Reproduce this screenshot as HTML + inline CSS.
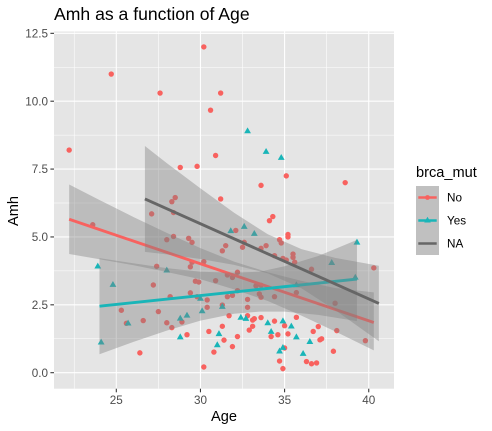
<!DOCTYPE html>
<html>
<head>
<meta charset="utf-8">
<title>Amh as a function of Age</title>
<style>
html,body{margin:0;padding:0;background:#fff;width:492px;height:431px;overflow:hidden}
svg{display:block}
text{font-family:"Liberation Sans",Arial,sans-serif}
</style>
</head>
<body>
<svg id="chart" width="492" height="431" viewBox="0 0 492 431" xmlns="http://www.w3.org/2000/svg">
  <text x="54" y="20" font-size="17.6" fill="#000">Amh as a function of Age</text>
  <rect x="54" y="31.5" width="340" height="357.2" fill="#e5e5e5"/>
  <g id="grid"></g>
  <g id="points"></g>
  <g id="smooths"></g>
  <g id="axes"></g>
  <text x="224" y="421" font-size="14.6" text-anchor="middle" fill="#000">Age</text>
  <text transform="translate(18,211) rotate(-90)" font-size="14.6" text-anchor="middle" fill="#000">Amh</text>
  <g>
    <text x="416" y="177" font-size="14.6" fill="#000">brca_mut</text>
    <rect x="416" y="186" width="23" height="69" fill="#c0c0c0"/>
    <g>
      <line x1="418.3" x2="436.7" y1="197.5" y2="197.5" stroke="#f8625f" stroke-width="2.6"/>
      <circle cx="427.5" cy="197.5" r="2.4" fill="#f8625f"/>
      <text x="447" y="201.6" font-size="11.7" fill="#000">No</text>
    </g>
    <g>
      <line x1="418.3" x2="436.7" y1="220.5" y2="220.5" stroke="#19b5b8" stroke-width="2.6"/>
      <path d="M427.5 216.8 L430.8 222.5 L424.2 222.5 Z" fill="#19b5b8"/>
      <text x="447" y="224.6" font-size="11.7" fill="#000">Yes</text>
    </g>
    <g>
      <line x1="418.3" x2="436.7" y1="243.5" y2="243.5" stroke="#666" stroke-width="2.6"/>
      <text x="447" y="247.6" font-size="11.7" fill="#000">NA</text>
    </g>
  </g>
</svg>
<script>
const xTickValues = [25, 30, 35, 40];
const xMinorValues = [22.5, 27.5, 32.5, 37.5];
const yTickValues = [0, 2.5, 5, 7.5, 10, 12.5];
const yTickLabels = ['0.0', '2.5', '5.0', '7.5', '10.0', '12.5'];
const yMinorValues = [1.25, 3.75, 6.25, 8.75, 11.25];

const noPoints = [[22.2,8.2],[24.7,11],[27.6,10.3],[30.2,12],[30.6,9.67],[31.2,10.3],[30.9,8],[29.8,7.6],[28.8,7.56],[31.2,6.4],[28.5,6.45],[28.3,6.3],[27.1,5.85],[35.1,7.25],[33.6,6.9],[38.6,7],[34.3,5.75],[34.1,5.6],[23.6,5.45],[28.4,5.9],[28,4.9],[28.4,5.02],[29.3,4.95],[29.5,4.8],[30.2,4.09],[29.5,4.07],[29.4,3.9],[27.4,3.92],[29.7,3.37],[29.9,3.34],[30.9,3.39],[27.2,3.23],[29.4,2.94],[28.2,2.8],[29.8,2.8],[30.4,2.68],[30.4,2.41],[25.3,2.3],[27.5,2.25],[26.6,1.92],[25.6,1.82],[28,1.84],[28.9,1.87],[28.3,1.66],[30.5,1.52],[29.2,1.4],[30.8,0.76],[30.2,0.21],[26.4,0.73],[35.2,5.09],[35.2,5],[32.1,5.24],[34.7,4.9],[34.8,4.78],[31.5,4.68],[31.3,4.49],[32.6,4.8],[32.5,4.62],[33.6,4.58],[33.9,4.68],[35.5,4.37],[35.5,4.25],[34.4,4.31],[34.9,4.21],[35.1,4.15],[35.6,4.07],[36.6,3.81],[40.3,3.86],[32.2,3.7],[31.6,3.6],[31.9,3.51],[33.3,3.2],[33.6,3.22],[32.2,3.02],[31.6,2.8],[31.9,2.85],[33.5,2.9],[33.6,2.78],[34.4,2.8],[35.7,2.95],[32.8,2.7],[32.8,2.41],[31.3,2.49],[38,2.56],[31.7,2.1],[32.8,2.1],[33.6,2.03],[33.2,1.99],[33.1,1.94],[34.4,1.9],[35.7,2.04],[35,1.73],[37,1.7],[33.1,1.71],[32.9,1.57],[31.3,1.71],[38.1,1.55],[36.7,1.52],[35.2,1.43],[34.6,1.4],[34.2,1.33],[32.2,1.33],[31.4,1.2],[37.1,1.21],[37.2,1.25],[39.8,1.18],[31.9,0.96],[35,0.91],[37.9,0.79],[34.7,0.43],[36.3,0.41],[36.6,0.33],[36.9,0.36],[34.9,0.15]];
const yesPoints = [[32.8,8.9],[33.9,8.14],[34.8,7.92],[23.9,3.92],[24.8,3.24],[28,3.77],[30,2.73],[30.1,2.27],[29.2,2.11],[28.8,2],[25.7,1.82],[28.8,1.31],[24.1,1.12],[31.8,5.22],[32.6,5.38],[33.2,5.12],[39.3,4.8],[37.8,4.05],[39.2,3.51],[35.7,3.23],[31.3,2.43],[32.4,2.03],[32.7,1.99],[34,1.83],[34.9,1.9],[35.4,1.71],[34.2,1.51],[35.7,1.31],[36.5,1.14],[31.1,1.43],[31,1.02],[34.9,0.92],[34.7,0.79],[36.1,0.7]];

// Each band row: age, lower bound, upper bound
const noBand = [[22.2,4.37,6.93],[24,4.18,6.36],[26,3.96,5.74],[28,3.71,5.15],[30,3.44,4.59],[32,3.07,4.09],[34,2.64,3.7],[36,2.1,3.38],[38,1.52,3.12],[40.3,0.82,2.96]];
const yesBand = [[24,0.68,4.22],[26,1.13,4.03],[28,1.55,3.85],[30,1.92,3.72],[32,2.17,3.68],[33.5,2.25,3.72],[35,2.25,3.92],[37,2.13,4.3],[39.3,1.9,4.89]];
const naBand = [[26.7,4.45,8.35],[28,4.36,7.72],[30,4.19,6.79],[32,3.97,5.89],[34,3.66,5.1],[36,3.11,4.55],[38,2.31,4.23],[40.6,1.16,3.94]];

const noLine = [[22.2,5.65],[40.3,1.85]];
const yesLine = [[24,2.45],[39.3,3.45]];
const naLine = [[26.7,6.4],[40.6,2.55]];

const NS = 'http://www.w3.org/2000/svg';
function xScale(v) { return 116.3 + (v - 25) * 16.83; }
function yScale(v) { return 372.7 - v * 27.15; }
function make(tag, attrs, parent) {
  const el = document.createElementNS(NS, tag);
  Object.keys(attrs).forEach(function (k) { el.setAttribute(k, attrs[k]); });
  parent.appendChild(el);
  return el;
}
const PANEL = { left: 54, right: 394, top: 31.5, bottom: 388.7 };
const grid = document.getElementById('grid');
const axes = document.getElementById('axes');
const pointsLayer = document.getElementById('points');
const smooths = document.getElementById('smooths');

yMinorValues.forEach(function (v) {
  const el = make('line', { x1: PANEL.left, x2: PANEL.right, y1: yScale(v), y2: yScale(v), stroke: '#fff', 'stroke-width': 0.55 }, grid);
  
  
});
xMinorValues.forEach(function (v) {
  const el = make('line', { x1: xScale(v), x2: xScale(v), y1: PANEL.top, y2: PANEL.bottom, stroke: '#fff', 'stroke-width': 0.55 }, grid);
  
  
});
yTickValues.forEach(function (v, i) {
  const y = yScale(v);
  const g = make('line', { x1: PANEL.left, x2: PANEL.right, y1: y, y2: y, stroke: '#fff', 'stroke-width': 1.07 }, grid);
  
  
  const t = make('line', { x1: 50.4, x2: PANEL.left, y1: y, y2: y, stroke: '#333', 'stroke-width': 1.07 }, axes);
  
  
  const l = make('text', { x: 48, y: y + 4.1, 'text-anchor': 'end', 'font-size': 11.7, fill: '#4d4d4d' }, axes);
  l.textContent = yTickLabels[i];
  
  
});
xTickValues.forEach(function (v) {
  const x = xScale(v);
  const g = make('line', { x1: x, x2: x, y1: PANEL.top, y2: PANEL.bottom, stroke: '#fff', 'stroke-width': 1.07 }, grid);
  
  
  const t = make('line', { x1: x, x2: x, y1: PANEL.bottom, y2: PANEL.bottom + 3.6, stroke: '#333', 'stroke-width': 1.07 }, axes);
  
  
  const l = make('text', { x: x, y: 404, 'text-anchor': 'middle', 'font-size': 11.7, fill: '#4d4d4d' }, axes);
  l.textContent = String(v);
  
  
});

noPoints.forEach(function (p) {
  const el = make('circle', { cx: xScale(p[0]), cy: yScale(p[1]), r: 2.7, fill: '#f8625f' }, pointsLayer);
  
  
});
yesPoints.forEach(function (p) {
  const x = xScale(p[0]);
  const y = yScale(p[1]);
  const el = make('path', { d: 'M' + x + ' ' + (y - 3.7) + 'L' + (x + 3.4) + ' ' + (y + 2.2) + 'L' + (x - 3.4) + ' ' + (y + 2.2) + 'Z', fill: '#19b5b8' }, pointsLayer);
  
  
});

function bandPath(band) {
  const up = band.map(function (r) { return xScale(r[0]) + ' ' + yScale(r[2]); });
  const low = band.slice().reverse().map(function (r) { return xScale(r[0]) + ' ' + yScale(r[1]); });
  return 'M' + up.join('L') + 'L' + low.join('L') + 'Z';
}
function linePath(line) {
  return 'M' + line.map(function (r) { return xScale(r[0]) + ' ' + yScale(r[1]); }).join('L');
}

const noRibbon = make('path', { d: bandPath(noBand), fill: '#808080', 'fill-opacity': 0.4 }, smooths);


const noTrend = make('path', { d: linePath(noLine), fill: 'none', stroke: '#f8625f', 'stroke-width': 2.9 }, smooths);



const yesRibbon = make('path', { d: bandPath(yesBand), fill: '#808080', 'fill-opacity': 0.4 }, smooths);


const yesTrend = make('path', { d: linePath(yesLine), fill: 'none', stroke: '#19b5b8', 'stroke-width': 2.9 }, smooths);



const naRibbon = make('path', { d: bandPath(naBand), fill: '#808080', 'fill-opacity': 0.4 }, smooths);


const naTrend = make('path', { d: linePath(naLine), fill: 'none', stroke: '#666', 'stroke-width': 2.9 }, smooths);


</script>
</body>
</html>
